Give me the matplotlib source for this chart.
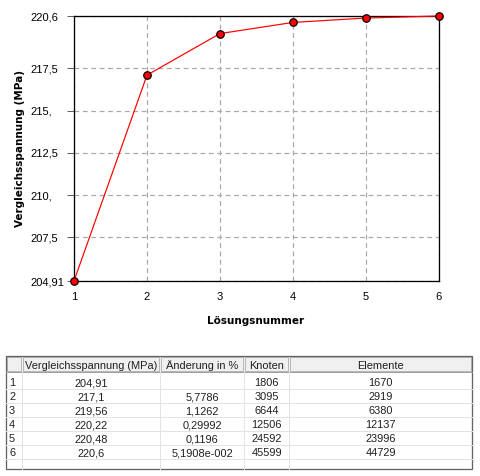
import matplotlib
matplotlib.use('Agg')
import matplotlib.pyplot as plt
from matplotlib.patches import Rectangle

# ---- data ----
loesung = [1, 2, 3, 4, 5, 6]
spannung = [204.91, 217.1, 219.56, 220.22, 220.48, 220.6]
spannung_txt = ['204,91', '217,1', '219,56', '220,22', '220,48', '220,6']
aenderung_txt = ['', '5,7786', '1,1262', '0,29992', '0,1196', '5,1908e-002']
knoten = [1806, 3095, 6644, 12506, 24592, 45599]
elemente = [1670, 2919, 6380, 12137, 23996, 44729]
yticks = [204.91, 207.5, 210, 212.5, 215, 217.5, 220.6]
ytick_labels = ['204,91', '207,5', '210,', '212,5', '215,', '217,5', '220,6']
headers = ['Vergleichsspannung (MPa)', 'Änderung in %', 'Knoten', 'Elemente']

FONT = 'Liberation Sans'
BOLDFONT = 'DejaVu Sans'
plt.rcParams['font.family'] = [FONT, 'DejaVu Sans']

W, H, DPI = 480, 476, 100
fig = plt.figure(figsize=(W / DPI, H / DPI), dpi=DPI)
px = 72.0 / DPI  # points per pixel

# ---- chart ----
L, R, T, B = 74, 439, 16, 281
ax = fig.add_axes([L / W, 1 - B / H, (R - L) / W, (B - T) / H])
ax.set_xlim(loesung[0], loesung[-1])
ax.set_ylim(yticks[0], yticks[-1])
ax.set_xticks(loesung)
ax.set_xticklabels([str(v) for v in loesung])
ax.set_yticks(yticks)
ax.set_yticklabels(ytick_labels, ha='left')
ax.tick_params(axis='y', length=7 * px, width=1 * px, color='#606060',
               pad=37 * px, labelsize=8.0, direction='out')
ax.tick_params(axis='x', length=0, pad=11 * px, labelsize=8.0)
for s in ax.spines.values():
    s.set_linewidth(1.3 * px)
    s.set_color('black')
ax.grid(True, color='#a8a8a8', linestyle=(0, (4, 3)), linewidth=1.2 * px)
ax.set_axisbelow(True)

ax.plot(loesung, spannung, color='red', linewidth=1.2 * px, marker='o',
        markersize=7.5 * px, markerfacecolor='red',
        markeredgecolor='black', markeredgewidth=1.2 * px, clip_on=False, zorder=5)

ax.set_xlabel('Lösungsnummer', fontsize=7.5, fontweight='bold', family=BOLDFONT)
ax.set_ylabel('Vergleichsspannung (MPa)', fontsize=7.5, fontweight='bold',
              family=BOLDFONT)
ax.xaxis.set_label_coords((256 - L) / (R - L), (B - 321) / (B - T))
ax.xaxis.label.set_va('center')
ax.yaxis.set_label_coords((20 - L) / (R - L), 0.5)
ax.yaxis.label.set_va('center')

# ---- table ----
tax = fig.add_axes([0, 0, 1, 1], zorder=-1)
tax.set_xlim(0, W)
tax.set_ylim(H, 0)
tax.axis('off')

cols = [6, 22, 160, 244, 289, 472]
top, head_bot, rows_top, row_h, bottom = 355.5, 372, 375, 14, 468.5

# header background
tax.add_patch(Rectangle((cols[0], top), cols[-1] - cols[0], head_bot - top,
                        facecolor='#f0f0f0', edgecolor='none'))
for i in range(len(cols) - 1):
    tax.add_patch(Rectangle((cols[i] + 1, top + 1), cols[i + 1] - cols[i] - 2,
                            head_bot - top - 2, facecolor='none',
                            edgecolor='#b8b8b8', linewidth=1 * px))
tax.plot([cols[0], cols[-1]], [head_bot, head_bot], color='#a0a0a0', lw=1 * px)

# grid lines in data area
n_rows = len(loesung) + 1
for r in range(1, n_rows):
    y = rows_top + r * row_h
    tax.plot([cols[0], cols[-1]], [y, y], color='#e3e3e3', lw=1 * px)
for c in cols[1:-1]:
    tax.plot([c, c], [head_bot, bottom], color='#e3e3e3', lw=1 * px)

# outer border
tax.add_patch(Rectangle((cols[0], top), cols[-1] - cols[0], bottom - top,
                        facecolor='none', edgecolor='#646464', linewidth=1.3 * px))

fs = 7.9
for i, h in enumerate(headers):
    tax.text((cols[i + 1] + cols[i + 2]) / 2, 369, h,
             ha='center', va='baseline', fontsize=fs, color='#202020')

for r in range(len(loesung)):
    yb = rows_top + r * row_h + 11
    vals = [spannung_txt[r], aenderung_txt[r], str(knoten[r]), str(elemente[r])]
    tax.text(cols[0] + 3, yb, str(loesung[r]), ha='left', va='baseline',
             fontsize=fs, color='#202020')
    for c, v in enumerate(vals):
        tax.text((cols[c + 1] + cols[c + 2]) / 2, yb, v, ha='center',
                 va='baseline', fontsize=fs, color='#202020')

fig.savefig('out.png', dpi=DPI)
